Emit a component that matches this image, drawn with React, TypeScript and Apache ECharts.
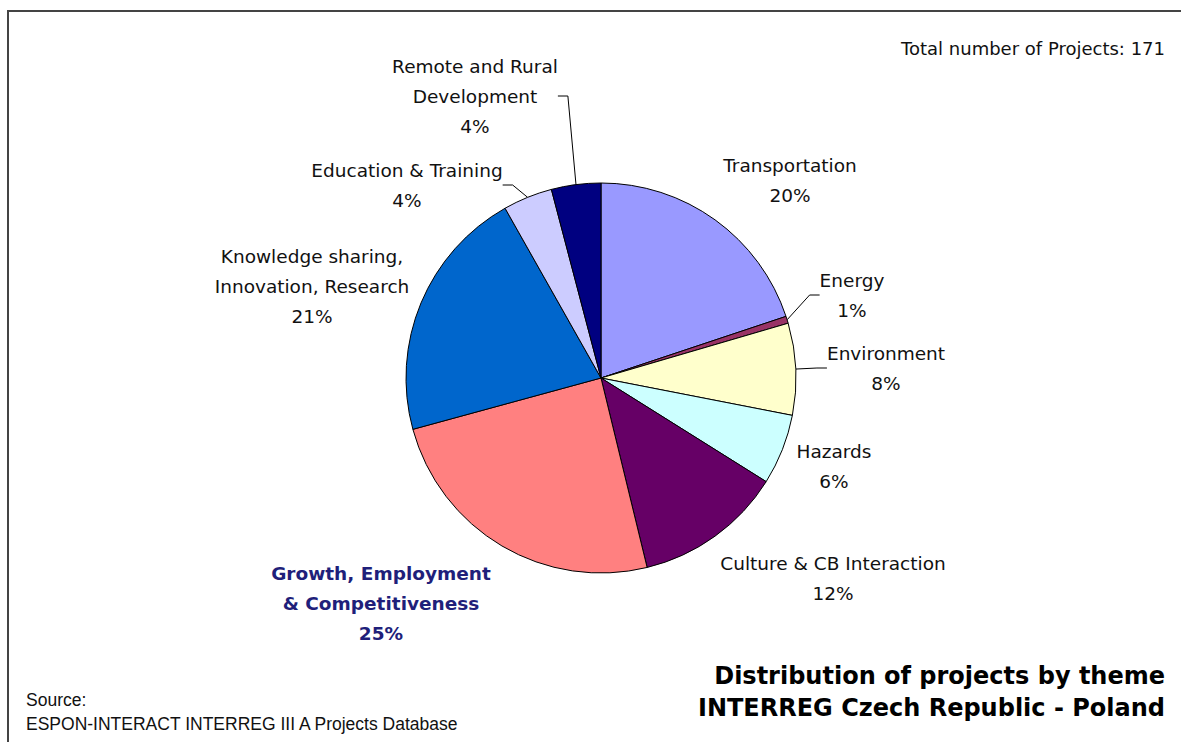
import React, { useEffect, useRef } from "react";
import * as echarts from "echarts";

const themes = [
  "Transportation",
  "Energy",
  "Environment",
  "Hazards",
  "Culture & CB Interaction",
  "Growth, Employment\n& Competitiveness",
  "Knowledge sharing,\nInnovation, Research",
  "Education & Training",
  "Remote and Rural\nDevelopment",
];
const projectCounts = [34, 1, 13, 10, 21, 42, 36, 7, 7];
const totalProjects = 171;
const colors = ["#9999FF", "#993366", "#FFFFCC", "#CCFFFF", "#660066", "#FF8080", "#0066CC", "#CCCCFF", "#000080"];
const withLeader = [false, true, true, false, false, false, false, true, true];
const labelPos: [number, number][] = [
  [790, 180],
  [852, 295],
  [886, 368],
  [834, 466],
  [833, 578],
  [381, 603],
  [312, 286],
  [407, 185],
  [475, 96],
];

const FONT = "'DejaVu Sans', Verdana, sans-serif";
const FONT2 = "'Liberation Sans', Arial, sans-serif";

export default function App() {
  const ref = useRef<HTMLDivElement>(null);
  useEffect(() => {
    document.body.style.margin = "0";
    const chart = echarts.init(ref.current!, null, { renderer: "svg" });
    chart.setOption({
      animation: false,
      backgroundColor: "#ffffff",
      graphic: [
        {
          type: "rect",
          shape: { x: 8, y: 11, width: 1300, height: 900 },
          style: { fill: "none", stroke: "#444", lineWidth: 2 },
          silent: true,
        },
        {
          type: "text",
          x: 1165,
          y: 48,
          style: { text: "Total number of Projects: 171", fill: "#111", font: `18px ${FONT}`, textAlign: "right", textVerticalAlign: "middle" },
        },
        {
          type: "text",
          x: 1165,
          y: 676,
          style: { text: "Distribution of projects by theme", fill: "#000", font: `bold 24px ${FONT}`, textAlign: "right", textVerticalAlign: "middle" },
        },
        {
          type: "text",
          x: 1165,
          y: 708,
          style: { text: "INTERREG Czech Republic - Poland", fill: "#000", font: `bold 24px ${FONT}`, textAlign: "right", textVerticalAlign: "middle" },
        },
        {
          type: "text",
          x: 26,
          y: 700,
          style: { text: "Source:", fill: "#111", font: `17.5px ${FONT2}`, textAlign: "left", textVerticalAlign: "middle" },
        },
        {
          type: "text",
          x: 26,
          y: 724,
          style: { text: "ESPON-INTERACT INTERREG III A Projects Database", fill: "#111", font: `17.5px ${FONT2}`, textAlign: "left", textVerticalAlign: "middle" },
        },
      ],
      series: [
        {
          type: "pie",
          center: [601, 378],
          radius: 195,
          startAngle: 90,
          clockwise: true,
          avoidLabelOverlap: false,
          itemStyle: { borderColor: "#000", borderWidth: 1 },
          label: {
            show: true,
            position: "outside",
            fontFamily: FONT,
            fontSize: 18.5,
            color: "#111",
            lineHeight: 30,
            align: "center",
            formatter: (p: any) => `${p.name}\n${Math.round((p.value / totalProjects) * 100)}%`,
          },
          labelLine: { show: true, lineStyle: { color: "#000", width: 1 }, length: 10, length2: 10 },
          labelLayout: (p: any) => {
            const pos = labelPos[p.dataIndex];
            return { x: pos[0], y: pos[1], align: "center", verticalAlign: "middle" };
          },
          emphasis: { disabled: true },
          data: themes.map((name, i) => ({
            name,
            value: projectCounts[i],
            itemStyle: { color: colors[i] },
            labelLine: { show: withLeader[i] },
            label:
              i === 5
                ? { fontWeight: "bold", color: "#1f1f7a", fontSize: 18.5 }
                : {},
          })),
        },
      ],
    });
    return () => chart.dispose();
  }, []);
  return <div ref={ref} style={{ position: "fixed", left: 0, top: 0, width: 1181, height: 742 }} />;
}
